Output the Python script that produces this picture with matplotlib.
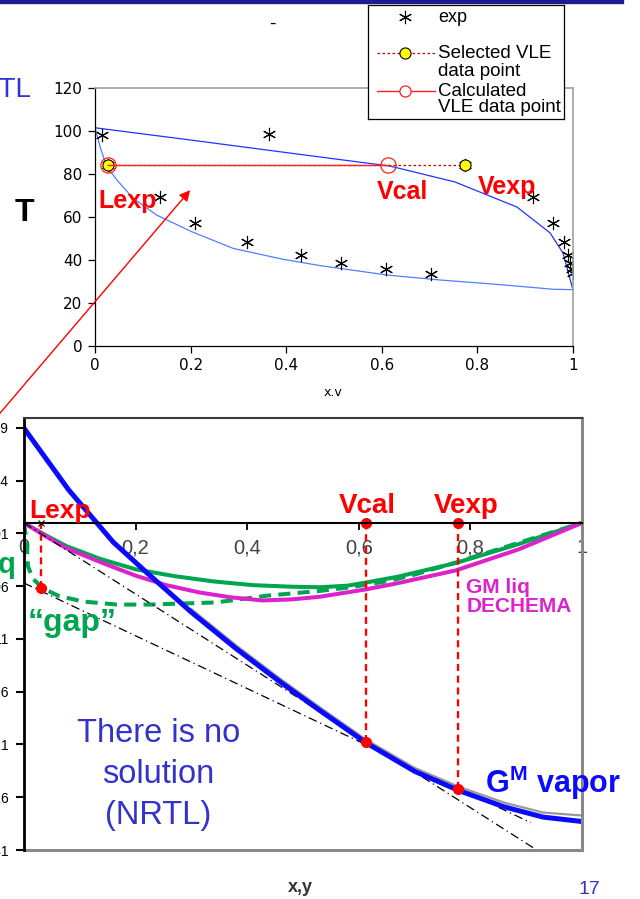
import numpy as np
import matplotlib.pyplot as plt
from matplotlib.patches import FancyArrowPatch, Rectangle

plt.rcParams['font.family'] = ['Liberation Sans', 'DejaVu Sans']
plt.rcParams['mathtext.fontset'] = 'custom'
plt.rcParams['mathtext.rm'] = 'Liberation Sans'
plt.rcParams['mathtext.bf'] = 'Liberation Sans:bold'

# ---- top chart: T-x,y diagram ----
dew_x = [0, 0.2, 0.471, 0.617, 0.753, 0.883, 0.952, 0.979, 1.0]
dew_T = [101.5, 95.8, 87.9, 83.7, 76.3, 64.6, 52.6, 43.3, 26.0]
bub_x = [0, 0.0105, 0.0244, 0.049, 0.080, 0.129, 0.202, 0.289, 0.394, 0.471,
         0.611, 0.722, 0.85, 0.958, 1.0]
bub_T = [101.5, 92.7, 83.4, 76.4, 68.7, 60.9, 53.2, 45.4, 40.3, 37.4,
         33.0, 30.7, 28.5, 26.4, 26.2]
exp_x = [0.014, 0.027, 0.136, 0.209, 0.317, 0.365, 0.430, 0.514, 0.609, 0.703,
         0.774, 0.917, 0.959, 0.982, 0.990, 0.994, 0.997, 1.0]
exp_T = [98.1, 84.2, 69.4, 57.4, 48.2, 98.6, 42.3, 38.8, 35.7, 33.3,
         84.2, 69.5, 57.4, 48.2, 42.3, 38.5, 35.7, 33.8]
sel_x = [0.027, 0.774]
sel_T = [84.2, 84.2]
calc_x = [0.027, 0.613]
calc_T = [84.2, 84.2]
x1_ticks = [0, 0.2, 0.4, 0.6, 0.8, 1]
x1_labels = ['0', '0.2', '0.4', '0.6', '0.8', '1']
y1_ticks = [0, 20, 40, 60, 80, 100, 120]

# ---- bottom chart: Gibbs energy of mixing ----
vap_x = [0, 0.08, 0.16, 0.22, 0.30, 0.38, 0.46, 0.53, 0.613, 0.70,
         0.78, 0.86, 0.93, 1.0]
vap_G = [0.0897, 0.0313, -0.0183, -0.0471, -0.0847, -0.1191, -0.1511, -0.1777, -0.2084, -0.2354,
         -0.2538, -0.269, -0.2788, -0.283]
vap2_x = [0.30, 0.38, 0.46, 0.53, 0.613, 0.70, 0.78, 0.86, 0.93, 1.0]
vap2_G = [-0.0817, -0.116, -0.148, -0.1747, -0.2054, -0.2322, -0.2502, -0.265, -0.2745, -0.2773]
liq_x = [0, 0.04, 0.076, 0.136, 0.2, 0.27, 0.34, 0.41, 0.48, 0.53,
         0.58, 0.613, 0.67, 0.774, 0.887, 1.0]
liq_G = [0, -0.012, -0.022, -0.034, -0.044, -0.0505, -0.0555, -0.059, -0.0605, -0.061,
         -0.0595, -0.0565, -0.051, -0.038, -0.020, 0.0]
dech_x = [0, 0.04, 0.076, 0.136, 0.2, 0.255, 0.315, 0.37, 0.428, 0.48,
          0.53, 0.613, 0.671, 0.774, 0.887, 1.0]
dech_G = [0, -0.013, -0.024, -0.037, -0.050, -0.059, -0.066, -0.0705, -0.0735, -0.0725,
          -0.070, -0.063, -0.057, -0.045, -0.025, 0.0]
gap_x = [0, 0.005, 0.007, 0.016, 0.034, 0.061, 0.105, 0.166, 0.225, 0.284,
         0.344, 0.435, 0.53, 0.582, 0.654, 0.70, 0.774, 0.887, 1.0]
gap_G = [0, -0.019, -0.041, -0.053, -0.062, -0.069, -0.0745, -0.0774, -0.0774, -0.0764,
         -0.0754, -0.069, -0.0645, -0.0612, -0.055, -0.049, -0.0376, -0.0188, 0.0]
tanA_x = [0, 0.913]
tanA_G = [0, -0.308]
tanB_x = [0, 0.908]
tanB_G = [-0.057, -0.284]
pts_x = [0.03, 0.613, 0.778]
pts_G = [-0.062, -0.208, -0.252]
x2_ticks = [0, 0.2, 0.4, 0.6, 0.8, 1]
x2_labels = ['0', '0,2', '0,4', '0,6', '0,8', '1']
y2_ticks = [0.09, 0.04, -0.01, -0.06, -0.11, -0.16, -0.21, -0.26, -0.31]
y2_labels = ['0,09', '0,04', '-0,01', '-0,06', '-0,11', '-0,16', '-0,21', '-0,26', '-0,31']

W, H = 640, 899
BLUE_TXT = '#3333cc'


def box(l, t, r, b):
    return [l / W, 1 - b / H, (r - l) / W, (b - t) / H]


fig = plt.figure(figsize=(6.4, 8.99), dpi=100)
fig.patches.append(Rectangle((0, 1 - 3 / H), 623 / W, 3 / H, transform=fig.transFigure,
                             color='#1c1c8c', zorder=0))

# top chart
ax1 = fig.add_axes(box(95, 88, 573, 346))
ax1.plot(dew_x, dew_T, color='#2233ff', lw=0.9)
ax1.plot(bub_x, bub_T, color='#4d80ff', lw=0.9)
ax1.plot(exp_x, exp_T, ls='none', marker=(6, 2, 0), color='black', ms=9.5, mew=0.8)
ax1.plot(sel_x, sel_T, ls=(0, (2, 2)), color='#bb0000', lw=0.9, marker='o',
         mfc='yellow', mec='black', ms=8, mew=0.8)
ax1.plot(calc_x, calc_T, color='#ff2020', lw=1.0, marker='o', mfc='none',
         mec='#ff2020', ms=11, mew=0.9)
ax1.set_xlim(0, 1)
ax1.set_ylim(0, 120)
ax1.set_xticks(x1_ticks, x1_labels)
ax1.set_yticks(y1_ticks)
ax1.tick_params(direction='out', length=5, width=0.9, labelsize=11,
                labelfontfamily='DejaVu Sans', pad=4)
for s in ['top', 'right']:
    ax1.spines[s].set_color('#a0a0a0')
    ax1.spines[s].set_linewidth(1.2)
for s in ['left', 'bottom']:
    ax1.spines[s].set_linewidth(0.9)
ax1.text(0.068, 67.4, 'Lexp', color='red', fontsize=18, fontweight='bold', ha='center', va='center')
ax1.text(0.643, 71.6, 'Vcal', color='red', fontsize=18, fontweight='bold', ha='center', va='center')
ax1.text(0.862, 74.0, 'Vexp', color='red', fontsize=18, fontweight='bold', ha='center', va='center')
fig.text(333 / W, 1 - 392 / H, 'x.v', fontsize=9, ha='center', va='center',
         family='DejaVu Sans')

# legend box
lg = fig.add_axes(box(368, 5, 564, 119))
lg.set_xlim(0, 196)
lg.set_ylim(114, 0)
lg.set_xticks([])
lg.set_yticks([])
for s in lg.spines.values():
    s.set_linewidth(0.9)
lg.plot([37], [12], marker=(6, 2, 0), color='black', ms=9.5, mew=0.8)
lg.text(70, 12, 'exp', va='center', fontsize=13)
lg.plot([9, 67], [48, 48], ls=(0, (2, 2)), color='#bb0000', lw=0.9)
lg.plot([37], [48], 'o', mfc='yellow', mec='black', ms=8, mew=0.8)
lg.text(70, 48, 'Selected VLE', va='center', fontsize=13.5)
lg.text(70, 66, 'data point', va='center', fontsize=13.5)
lg.plot([9, 67], [86, 86], color='#ff2020', lw=1)
lg.plot([37], [86], 'o', mfc='white', mec='#ff2020', ms=8, mew=0.9)
lg.text(70, 86, 'Calculated', va='center', fontsize=13.5)
lg.text(70, 103, 'VLE data point', va='center', fontsize=13.5)

# bottom chart
ax2 = fig.add_axes(box(24, 418, 582, 850))
ax2.plot(gap_x, gap_G, color='#00a550', lw=2.9, ls=(0, (3, 1.8)))
ax2.plot(liq_x, liq_G, color='#00a550', lw=2.9)
ax2.plot(dech_x, dech_G, color='#dd22cc', lw=2.9)
ax2.plot(tanA_x, tanA_G, color='black', lw=0.9, ls=(0, (7, 3, 1, 3)))
ax2.plot(tanB_x, tanB_G, color='black', lw=0.9, ls=(0, (7, 3, 1, 3)))
ax2.plot(vap2_x, vap2_G, color='#999999', lw=1.6)
ax2.plot(vap_x, vap_G, color='#0a0aff', lw=3.6)
ax2.vlines(pts_x, pts_G, 0, colors='red', lw=1.7, linestyles=(0, (3, 2)))
ax2.plot(pts_x, pts_G, 'o', color='red', ms=7)
ax2.plot(pts_x[1:], [0, 0], 'o', color='red', ms=7)
ax2.plot(pts_x[:1], [0], 'x', color='black', ms=5, mew=0.8)
ax2.set_xlim(0, 1)
ax2.set_ylim(-0.309, 0.0994)
ax2.spines['bottom'].set_position(('data', 0))
ax2.spines['bottom'].set_linewidth(1.5)
ax2.spines['left'].set_linewidth(2)
ax2.spines['top'].set_color('#3a3a3a')
ax2.spines['top'].set_linewidth(1.5)
ax2.spines['right'].set_color('#888888')
ax2.spines['right'].set_linewidth(2.2)
ax2.plot([0, 1], [0, 0], transform=ax2.transAxes, color='#888888', lw=2.2, clip_on=False)
ax2.set_xticks(x2_ticks, x2_labels)
ax2.set_yticks(y2_ticks, y2_labels)
ax2.tick_params(axis='x', direction='out', length=5, width=1.3, labelsize=14.5,
                labelcolor='#444444', pad=6)
ax2.tick_params(axis='y', direction='out', length=6, width=1.5, labelsize=10, pad=5)

ax2.text(0.064, 0.005, 'Lexp', color='red', fontsize=19, fontweight='bold', ha='center', va='baseline')
ax2.text(0.6145, 0.009, 'Vcal', color='red', fontsize=20, fontweight='bold', ha='center', va='baseline')
ax2.text(0.793, 0.009, 'Vexp', color='red', fontsize=20, fontweight='bold', ha='center', va='baseline')
ax2.text(0.826, -0.256, r'G$^{\mathbf{M}}$ vapor', color='#0a0aff', fontsize=22,
         fontweight='bold', ha='left', va='baseline', clip_on=False)
ax2.text(-0.0143, -0.0485, r'G$^{\mathbf{M}}$ liq', color='#00a550', fontsize=21,
         fontweight='bold', ha='right', va='baseline', clip_on=False)
ax2.text(0.007, -0.102, '\u201cgap\u201d', color='#00a550', fontsize=23,
         fontweight='bold', ha='left', va='baseline')
ax2.text(0.7925, -0.0525, 'GM liq\nDECHEMA', color='#dd22cc', fontsize=15,
         fontweight='bold', ha='left', va='top', linespacing=1.0)
ax2.text(0.2406, -0.2384, 'There is no\nsolution\n(NRTL)', color=BLUE_TXT, fontsize=23.5,
         ha='center', va='center', multialignment='center', linespacing=1.42)

# slide decorations
fig.text(32 / W, 1 - 90 / H, 'NRTL', color=BLUE_TXT, fontsize=20, ha='right', va='center')
fig.text(24 / W, 1 - 213 / H, 'T', color='black', fontsize=23, fontweight='bold',
         ha='center', va='center')
fig.text(272 / W, 1 - 24 / H, '-', color='black', fontsize=14, ha='center', va='center')
fig.text(300 / W, 1 - 887 / H, 'x,y', color='#333333', fontsize=13, fontweight='bold',
         ha='center', va='center')
fig.text(589 / W, 1 - 890 / H, '17', color=BLUE_TXT, fontsize=14, ha='center', va='center')
fig.patches.append(FancyArrowPatch((-5 / W, 1 - 419 / H), (192 / W, 1 - 188 / H),
                                   transform=fig.transFigure, arrowstyle='-|>',
                                   mutation_scale=16, color='red', lw=1.0, zorder=5))

fig.savefig('out.png', dpi=100)
